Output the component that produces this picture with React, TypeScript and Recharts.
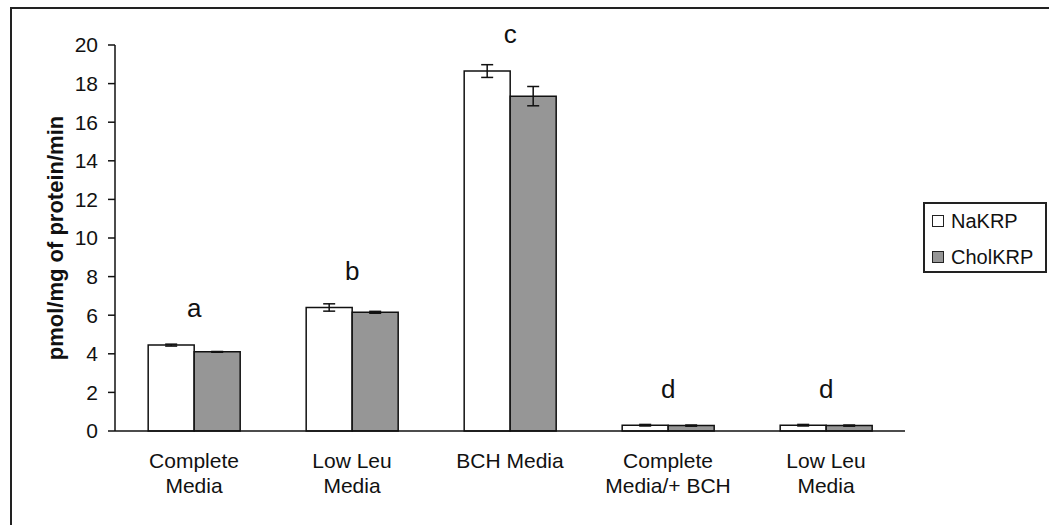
import React from "react";
import {
  BarChart,
  Bar,
  XAxis,
  YAxis,
  ErrorBar,
  Legend,
  LabelList,
} from "recharts";

const categories = [
  "Complete\nMedia",
  "Low Leu\nMedia",
  "BCH Media",
  "Complete\nMedia/+ BCH",
  "Low Leu\nMedia",
];
const naKRP = [4.45, 6.4, 18.65, 0.3, 0.3];
const naKRPErr = [0.05, 0.19, 0.33, 0.04, 0.04];
const cholKRP = [4.1, 6.15, 17.35, 0.28, 0.28];
const cholKRPErr = [0.02, 0.05, 0.5, 0.03, 0.03];
const letters = ["a", "b", "c", "d", "d"];
const yTicks = [0, 2, 4, 6, 8, 10, 12, 14, 16, 18, 20];
const boundaryTicks = [0, 1, 2, 3, 4, 5];
const seriesOrder = ["na", "chol"];

const data = categories.map((c, i) => ({
  cat: c,
  na: naKRP[i],
  naErr: naKRPErr[i],
  chol: cholKRP[i],
  cholErr: cholKRPErr[i],
  letter: letters[i],
}));

const FONT = "'Liberation Sans', Arial, sans-serif";

const CatTick = (props: any) => {
  const { x, y, payload } = props;
  const lines = String(payload.value).split("\n");
  return (
    <g transform={`translate(${x},${y})`}>
      <text textAnchor="middle" fontSize={21} fill="#111" fontFamily={FONT}>
        {lines.map((l, i) => (
          <tspan key={i} x={0} dy={i === 0 ? 37 : 25}>
            {l}
          </tspan>
        ))}
      </text>
    </g>
  );
};

const LetterLabel = (props: any) => {
  const { x, y, width, value } = props;
  return (
    <text
      x={x + width}
      y={y - 37}
      dy="0.36em"
      textAnchor="middle"
      fontSize={26}
      fill="#111"
      fontFamily={FONT}
    >
      {value}
    </text>
  );
};

const LegendBox = (props: any) => {
  const payload = [...(props.payload || [])].sort(
    (a: any, b: any) =>
      seriesOrder.indexOf(a.dataKey) - seriesOrder.indexOf(b.dataKey)
  );
  return (
    <div
      style={{
        border: "2px solid #222",
        width: 124,
        height: 71,
        boxSizing: "border-box",
        padding: "5px 0 0 7px",
        fontFamily: FONT,
        fontSize: 20,
        lineHeight: "24px",
        color: "#111",
        background: "#fff",
        textAlign: "left",
      }}
    >
      {payload.map((p: any, i: number) => (
        <div
          key={i}
          style={{
            display: "flex",
            alignItems: "center",
            height: 24,
            marginBottom: i === 0 ? 12 : 0,
            whiteSpace: "nowrap",
          }}
        >
          <span
            style={{
              display: "inline-block",
              width: 12,
              height: 12,
              border: "1.5px solid #222",
              background: p.payload?.fill ?? p.color,
              marginRight: 7,
              boxSizing: "border-box",
            }}
          />
          <span>{p.value}</span>
        </div>
      ))}
    </div>
  );
};

export default function App() {
  return (
    <div
      style={{
        position: "absolute",
        left: 0,
        top: 0,
        width: 1049,
        height: 525,
        background: "#fff",
        overflow: "hidden",
      }}
    >
      <div
        style={{
          position: "absolute",
          left: 10,
          top: 7,
          width: 1100,
          height: 600,
          borderLeft: "2px solid #222",
          borderTop: "2px solid #222",
        }}
      />
      <div style={{ position: "absolute", left: 0, top: 0 }}>
        <BarChart
          width={1049}
          height={525}
          data={data}
          margin={{ top: 45, right: 144, bottom: 34, left: 0 }}
          barCategoryGap="21%"
          barGap={0}
        >
          <XAxis
            xAxisId="ticks"
            type="number"
            domain={[0, 5]}
            ticks={boundaryTicks}
            allowDataOverflow
            height={0}
            axisLine={false}
            tick={false}
            tickSize={7}
            tickLine={{ stroke: "#111", strokeWidth: 1.5 }}
          />
          <XAxis
            xAxisId="cat"
            dataKey="cat"
            height={60}
            axisLine={{ stroke: "#111", strokeWidth: 1.5 }}
            tickLine={false}
            tickSize={0}
            tickMargin={0}
            interval={0}
            tick={<CatTick />}
          />
          <YAxis
            domain={[0, 20]}
            ticks={yTicks}
            width={115}
            tickSize={7}
            tickMargin={10}
            axisLine={{ stroke: "#111", strokeWidth: 1.5 }}
            tickLine={{ stroke: "#111", strokeWidth: 1.5 }}
            tick={{ fontSize: 21, fill: "#111", fontFamily: FONT }}
            label={{
              value: "pmol/mg of protein/min",
              angle: -90,
              position: "insideLeft",
              offset: 55,
              style: {
                textAnchor: "middle",
                fontSize: 22,
                fontWeight: "bold",
                fill: "#111",
                fontFamily: FONT,
              },
            }}
          />
          <Legend
            layout="horizontal"
            align="center"
            verticalAlign="middle"
            wrapperStyle={{ left: 923, top: 202, width: 124, height: 71 }}
            content={<LegendBox />}
          />
          <Bar
            xAxisId="cat"
            dataKey="na"
            name="NaKRP"
            fill="#ffffff"
            stroke="#111"
            strokeWidth={1.5}
            isAnimationActive={false}
          >
            <ErrorBar
              dataKey="naErr"
              width={6}
              stroke="#111"
              strokeWidth={1.5}
              isAnimationActive={false}
            />
            <LabelList dataKey="letter" content={<LetterLabel />} />
          </Bar>
          <Bar
            xAxisId="cat"
            dataKey="chol"
            name="CholKRP"
            fill="#969696"
            stroke="#111"
            strokeWidth={1.5}
            isAnimationActive={false}
          >
            <ErrorBar
              dataKey="cholErr"
              width={6}
              stroke="#111"
              strokeWidth={1.5}
              isAnimationActive={false}
            />
          </Bar>
        </BarChart>
      </div>
    </div>
  );
}
